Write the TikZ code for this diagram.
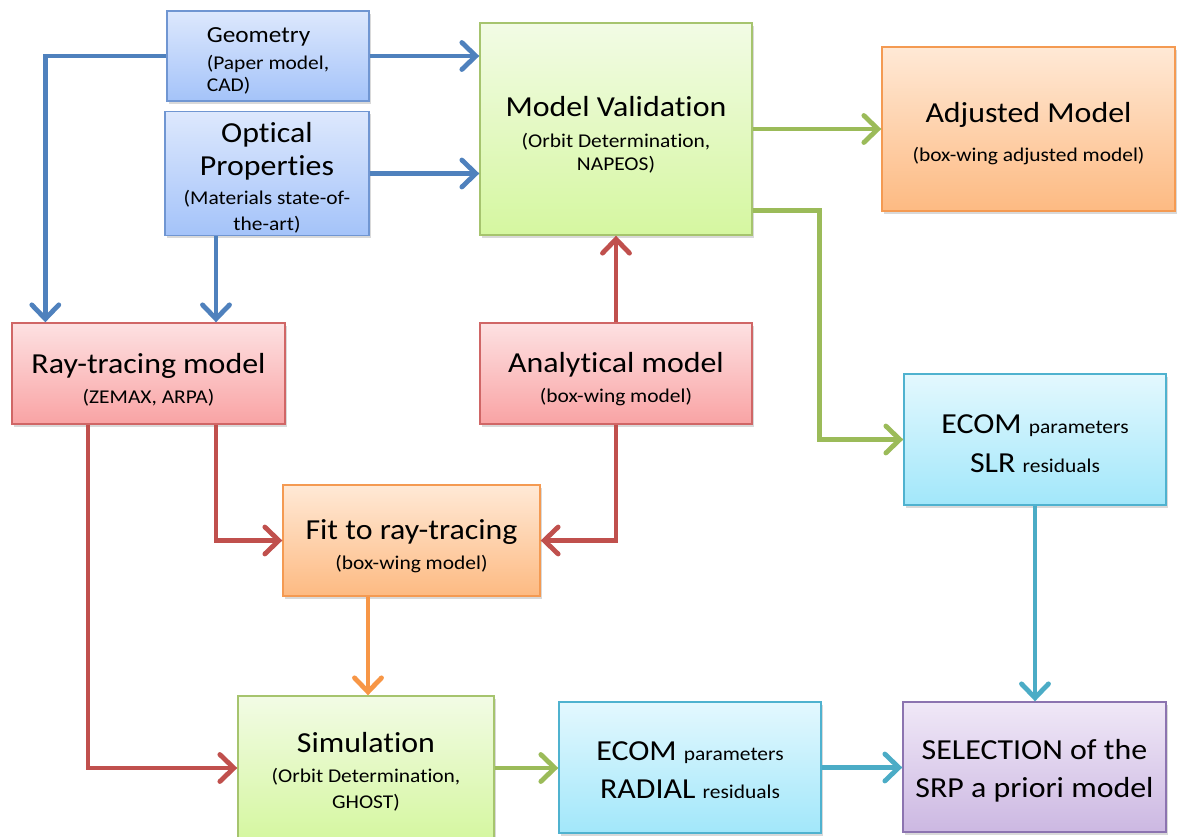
\documentclass[tikz,border=0pt]{standalone}
\usepackage{fontspec}
\setmainfont{Carlito}[FakeStretch=1.1, Ligatures=NoCommon]
\usetikzlibrary{arrows.meta,calc,shadows}

\definecolor{lnblue}{HTML}{4F81BD}
\definecolor{lnred}{HTML}{C0504D}
\definecolor{lngreen}{HTML}{9BBB59}
\definecolor{lnorange}{HTML}{F79646}
\definecolor{lncyan}{HTML}{4BACC6}

\definecolor{bluetop}{HTML}{DDE8FD}\definecolor{bluebot}{HTML}{A4C3F9}\definecolor{blueedge}{HTML}{7096D2}
\definecolor{redtop}{HTML}{FDE1E2}\definecolor{redbot}{HTML}{F9A3A4}\definecolor{rededge}{HTML}{D06666}
\definecolor{greentop}{HTML}{F2FBE5}\definecolor{greenbot}{HTML}{D5F7A0}\definecolor{greenedge}{HTML}{A6C46E}
\definecolor{orangetop}{HTML}{FFE9D6}\definecolor{orangebot}{HTML}{FDBA82}\definecolor{orangeedge}{HTML}{F49A52}
\definecolor{cyantop}{HTML}{E3F8FE}\definecolor{cyanbot}{HTML}{A2E7FA}\definecolor{cyanedge}{HTML}{4FB2CF}
\definecolor{purpletop}{HTML}{F0E8F7}\definecolor{purplebot}{HTML}{CCB8E2}\definecolor{purpleedge}{HTML}{8C74B0}

\newcommand{\Lg}{\fontsize{29}{25}\selectfont}
\newcommand{\Md}{\fontsize{23}{25}\selectfont}
\newcommand{\Sm}{\fontsize{19.5}{25}\selectfont}
% invisible strut that lowers a text block inside its box
\newcommand{\Dn}[1]{\rule{0pt}{#1pt}}

\tikzset{
  box/.style={draw, line width=1.4pt, rectangle, align=center, inner sep=2pt,
    font=\Sm, shading=axis, shading angle=0,
    drop shadow={opacity=0.3, shadow xshift=2pt, shadow yshift=-2.5pt}},
  bluebox/.style={box, draw=blueedge, top color=bluetop, bottom color=bluebot},
  redbox/.style={box, draw=rededge, top color=redtop, bottom color=redbot},
  greenbox/.style={box, draw=greenedge, top color=greentop, bottom color=greenbot},
  orangebox/.style={box, draw=orangeedge, top color=orangetop, bottom color=orangebot},
  cyanbox/.style={box, draw=cyanedge, top color=cyantop, bottom color=cyanbot},
  purplebox/.style={box, draw=purpleedge, top color=purpletop, bottom color=purplebot},
  link/.style={line width=4.8pt, line join=miter,
    -{Straight Barb[length=14pt,width=27pt,line cap=round]}},
}

\begin{document}
\begin{tikzpicture}[x=1pt,y=-1pt]
\useasboundingbox (0,0) rectangle (1181,836);

% ---- boxes ----
\node[bluebox, minimum width=202, minimum height=90, align=left] (geo) at (268,56)
  {\Dn{25}\Md Geometry\\[2pt]\Sm (Paper model,\\[-3pt]\Sm CAD)};
\node[bluebox, minimum width=204, minimum height=123] (opt) at (267,173.5)
  {\Dn{29}\Lg Optical\\[8pt]\Lg Properties\\[4pt]\Sm (Materials state-of-\\[1pt]\Sm the-art)};
\node[greenbox, minimum width=272, minimum height=212] (mv) at (616,129)
  {\Dn{31}\Lg Model Validation\\[6pt]\Sm (Orbit Determination,\\[-2pt]\Sm NAPEOS)};
\node[orangebox, minimum width=293, minimum height=164] (adj) at (1028.5,129)
  {\Dn{29}\Lg Adjusted Model\\[14pt]\Sm (box-wing adjusted model)};
\node[redbox, minimum width=273, minimum height=101] (ray) at (148.5,373.5)
  {\Dn{32}\Lg Ray-tracing model\\[5pt]\Sm (ZEMAX, ARPA)};
\node[redbox, minimum width=272, minimum height=101] (ana) at (616,373.5)
  {\Dn{32}\Lg Analytical model\\[5pt]\Sm (box-wing model)};
\node[orangebox, minimum width=257, minimum height=111] (fit) at (411.5,540.5)
  {\Dn{32}\Lg Fit to ray-tracing\\[5pt]\Sm (box-wing model)};
\node[cyanbox, minimum width=262, minimum height=131] (slr) at (1035,439.5)
  {\Dn{27}\Lg ECOM {\Sm parameters}\\[14pt]\Lg SLR {\Sm residuals}};
\node[greenbox, minimum width=256, minimum height=144] (sim) at (366,768)
  {\Dn{28}\Lg Simulation\\[5pt]\Sm (Orbit Determination,\\[1pt]\Sm GHOST)};
\node[cyanbox, minimum width=262, minimum height=131] (rad) at (690,767.5)
  {\Dn{25}\Lg ECOM {\Sm parameters}\\[13pt]\Lg RADIAL {\Sm residuals}};
\node[purplebox, minimum width=263, minimum height=130] (sel) at (1034.5,767)
  {\Dn{27}\Lg SELECTION of the\\[13pt]\Lg SRP a priori model};

% ---- bend points ----
\coordinate (optfoot) at ($(opt.south)+(-51,0)$);
\coordinate (geoleg)  at ($(ray.north west)+(34,0)$);
\coordinate (rayfit)  at ($(ray.south)+(67.5,0)$);
\coordinate (raysim)  at ($(ray.south)+(-60.5,0)$);
\coordinate (fitfoot) at ($(fit.south)+(-43.5,0)$);
\coordinate (mvlow)   at ($(mv.south east)+(0,-25)$);
\coordinate (slrleg)  at ($(slr.west)+(-84,0)$);

% ---- connectors ----
\draw[link, lnblue] (geo.west) -| (geoleg);
\draw[link, lnblue] (geo.east) -- (geo.east -| mv.west);
\draw[link, lnblue] (opt.east) -- (opt.east -| mv.west);
\draw[link, lnblue] (optfoot) -- (optfoot |- ray.north);

\draw[link, lnred] (ana.north) -- (ana.north |- mv.south);
\draw[link, lnred] (ana.south) |- (fit.east);
\draw[link, lnred] (rayfit) |- (fit.west);
\draw[link, lnred] (raysim) |- (sim.west);

\draw[link, lnorange] (fitfoot) -- (fitfoot |- sim.north);

\draw[link, lngreen] (mv.east) -- (adj.west);
\draw[link, lngreen] (mvlow) -| (slrleg) -- (slr.west);
\draw[link, lngreen] (sim.east) -- (sim.east -| rad.west);

\draw[link, lncyan] (slr.south) -- (slr.south |- sel.north);
\draw[link, lncyan] (rad.east) -- (rad.east -| sel.west);
\end{tikzpicture}
\end{document}
